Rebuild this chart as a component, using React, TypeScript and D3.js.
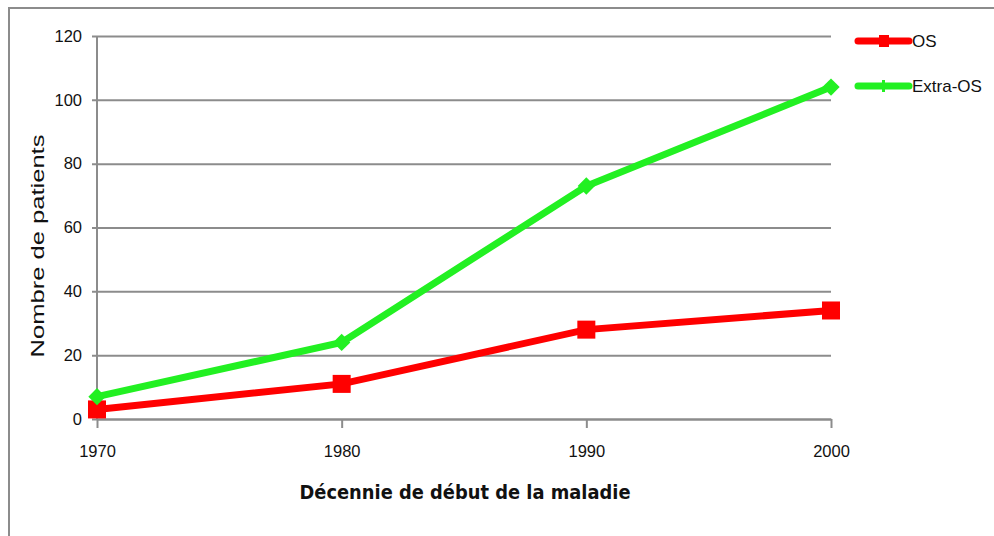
import React, { useRef, useEffect } from 'react';
import * as d3 from 'd3';

const decades = [1970, 1980, 1990, 2000];
const osValues = [3, 11, 28, 34];
const extraOsValues = [7, 24, 73, 104];
const yTicks = [0, 20, 40, 60, 80, 100, 120];

const RED = '#ff0000';
const GREEN = '#22f022';
const GRID = '#8c8c8c';
const FONT = '"Liberation Sans", Arial, sans-serif';

function App() {
  const svgRef = useRef<SVGSVGElement>(null);

  useEffect(() => {
    const svg = d3.select(svgRef.current);
    svg.selectAll('*').remove();

    const x = d3.scaleLinear().domain([1970, 2000]).range([97, 831]);
    const y = d3.scaleLinear().domain([0, 120]).range([419, 36]);

    // outer frame (runs off the right and bottom edges)
    svg
      .append('path')
      .attr('d', 'M9,540 L9,8 L1000,8')
      .attr('fill', 'none')
      .attr('stroke', GRID)
      .attr('stroke-width', 2);

    // y axis with gridlines
    const yAxis = d3
      .axisLeft(y)
      .tickValues(yTicks)
      .tickSize(-(831 - 92))
      .tickPadding(10)
      .tickFormat(d3.format('d'));
    const gy = svg.append('g').attr('transform', 'translate(92,0)').call(yAxis);
    gy.select('.domain').remove();
    gy.selectAll('.tick line').attr('stroke', GRID).attr('stroke-width', 2);
    gy.selectAll('.tick text')
      .attr('font-family', FONT)
      .attr('font-size', 16.5)
      .attr('fill', '#111')
      .attr('x', -10);

    svg
      .append('line')
      .attr('x1', 97)
      .attr('x2', 97)
      .attr('y1', 36)
      .attr('y2', 419)
      .attr('stroke', GRID)
      .attr('stroke-width', 2);

    // x axis
    const xAxis = d3
      .axisBottom(x)
      .tickValues(decades)
      .tickSize(9)
      .tickSizeOuter(0)
      .tickPadding(17)
      .tickFormat(d3.format('d'));
    const gx = svg.append('g').attr('transform', 'translate(0,419)').call(xAxis);
    gx.select('.domain').attr('stroke', GRID).attr('stroke-width', 2);
    gx.selectAll('.tick line').attr('stroke', GRID).attr('stroke-width', 2);
    gx.selectAll('.tick text')
      .attr('font-family', FONT)
      .attr('font-size', 16.5)
      .attr('fill', '#111');

    const line = d3
      .line<number>()
      .x((d, i) => x(decades[i]))
      .y((d) => y(d));

    // OS series
    svg
      .append('path')
      .attr('d', line(osValues))
      .attr('fill', 'none')
      .attr('stroke', RED)
      .attr('stroke-width', 7);
    svg
      .selectAll('.os-mark')
      .data(osValues)
      .join('rect')
      .attr('class', 'os-mark')
      .attr('x', (d, i) => x(decades[i]) - 9)
      .attr('y', (d) => y(d) - 9)
      .attr('width', 18)
      .attr('height', 18)
      .attr('fill', RED);

    // Extra-OS series
    svg
      .append('path')
      .attr('d', line(extraOsValues))
      .attr('fill', 'none')
      .attr('stroke', GREEN)
      .attr('stroke-width', 7);
    svg
      .selectAll('.eos-mark')
      .data(extraOsValues)
      .join('path')
      .attr('class', 'eos-mark')
      .attr('d', d3.symbol(d3.symbolSquare, 150)())
      .attr('transform', (d, i) => `translate(${x(decades[i])},${y(d)}) rotate(45)`)
      .attr('fill', GREEN);

    // legend
    const legend = [
      { name: 'OS', color: RED, cy: 41 },
      { name: 'Extra-OS', color: GREEN, cy: 86 },
    ];
    legend.forEach((l, i) => {
      svg
        .append('line')
        .attr('x1', 858)
        .attr('x2', 909)
        .attr('y1', l.cy)
        .attr('y2', l.cy)
        .attr('stroke', l.color)
        .attr('stroke-width', 7)
        .attr('stroke-linecap', 'round');
      if (i === 0) {
        svg
          .append('rect')
          .attr('x', 879)
          .attr('y', l.cy - 6)
          .attr('width', 10)
          .attr('height', 12)
          .attr('fill', l.color);
      } else {
        svg
          .append('rect')
          .attr('x', 882)
          .attr('y', l.cy - 6)
          .attr('width', 3)
          .attr('height', 12)
          .attr('fill', l.color);
      }
      svg
        .append('text')
        .attr('x', 912)
        .attr('y', l.cy + 6)
        .attr('font-family', FONT)
        .attr('font-size', 17)
        .attr('fill', '#111')
        .text(l.name);
    });

    // axis titles
    svg
      .append('text')
      .attr('x', 465)
      .attr('y', 499)
      .attr('text-anchor', 'middle')
      .attr('font-family', '"DejaVu Sans", sans-serif')
      .attr('font-weight', 'bold')
      .attr('font-size', 19)
      .attr('textLength', 331)
      .attr('lengthAdjust', 'spacingAndGlyphs')
      .attr('fill', '#111')
      .text('Décennie de début de la maladie');

    svg
      .append('text')
      .attr('transform', 'translate(44,246) rotate(-90)')
      .attr('text-anchor', 'middle')
      .attr('font-family', FONT)
      .attr('font-size', 18)
      .attr('textLength', 223)
      .attr('lengthAdjust', 'spacingAndGlyphs')
      .attr('fill', '#111')
      .text('Nombre de patients');
  }, []);

  return (
    <svg
      ref={svgRef}
      width={994}
      height={536}
      style={{ position: 'absolute', left: 0, top: 0, background: '#fff' }}
    />
  );
}

export default App;
